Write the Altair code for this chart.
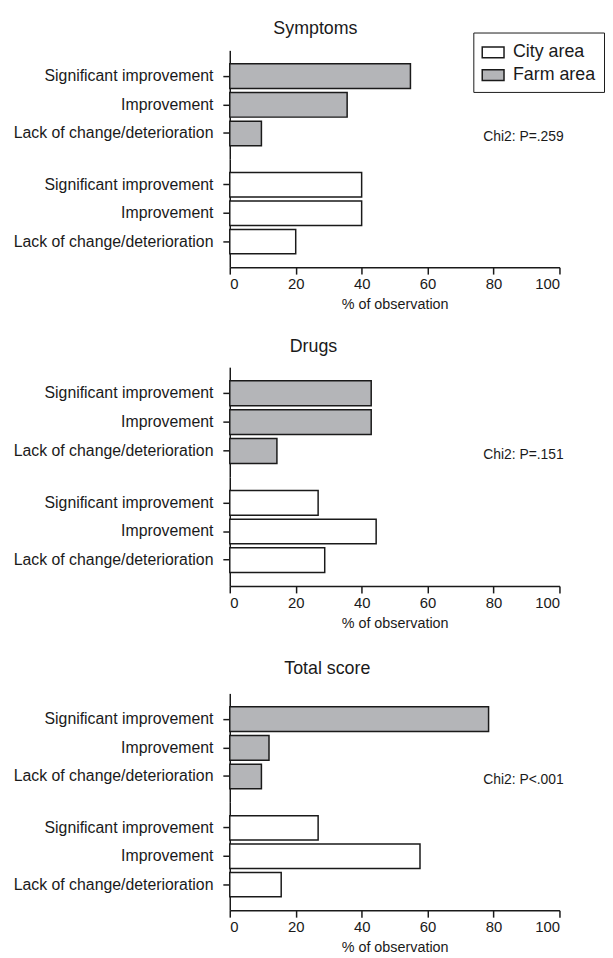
import altair as alt
import pandas as pd

# ---------------- data ----------------
categories = ["Significant improvement", "Improvement", "Lack of change/deterioration"]
areas = ["City area", "Farm area"]
area_colors = ["#ffffff", "#b4b5b8"]
panel_titles = ["Symptoms", "Drugs", "Total score"]
farm_values = [
    [54.8, 35.6, 9.6],   # Symptoms
    [42.9, 42.9, 14.3],  # Drugs
    [78.5, 11.9, 9.6],   # Total score
]
city_values = [
    [40.0, 40.0, 20.0],
    [26.8, 44.4, 28.8],
    [26.8, 57.7, 15.6],
]
chi2_labels = ["Chi2: P=.259", "Chi2: P=.151", "Chi2: P<.001"]
x_ticks = [0, 20, 40, 60, 80, 100]
x_title = "% of observation"

# ---------------- style / layout ----------------
FONT = "Liberation Sans"
INK = "#1a1a1a"
W = 333
H_FARM = [110, 111, 110]
H_CITY = [109, 110, 109]
title_dx = [-80, -82, -68]
title_offset = [-20, -3, 2]

x_scale = alt.Scale(domain=[0, 100], nice=False, zero=True)
color_scale = alt.Scale(domain=areas, range=area_colors)


def bars(values, area, show_x, legend, height):
    df = pd.DataFrame({"category": categories, "value": values, "area": area})
    x_axis = (
        alt.Axis(values=x_ticks, title=x_title, format="d")
        if show_x
        else None
    )
    return (
        alt.Chart(df)
        .mark_bar(stroke=INK, strokeWidth=1.5)
        .encode(
            x=alt.X("value:Q", scale=x_scale, axis=x_axis),
            y=alt.Y("category:N", sort=categories,
                    scale=alt.Scale(domain=categories, paddingInner=0.14,
                                    paddingOuter=0.47),
                    axis=alt.Axis(title=None)),
            color=alt.Color("area:N", scale=color_scale, legend=legend),
        )
        .properties(width=W, height=height)
    )


def panel(i):
    legend = None
    if i == 0:
        legend = alt.Legend(
            title=None, orient="none", legendX=246, legendY=-18,
            strokeColor=INK, padding=8, fillColor="white",
            symbolType="M-1,-0.5H1V0.5H-1Z", symbolSize=484,
            symbolStrokeColor=INK, symbolStrokeWidth=1.5,
            labelFont=FONT, labelFontSize=18, labelColor=INK,
            labelOffset=8, rowPadding=2,
        )
    farm = bars(farm_values[i], "Farm area", False, legend, H_FARM[i])
    note = (
        alt.Chart(pd.DataFrame({"label": [chi2_labels[i]]}))
        .mark_text(align="left", baseline="middle", dy=4, font=FONT,
                   fontSize=14, color=INK)
        .encode(
            x=alt.value(256),
            y=alt.YDatum(categories[2], type="nominal"),
            text="label:N",
        )
    )
    farm_layer = alt.layer(farm, note).properties(
        title=alt.Title(
            panel_titles[i], font=FONT, fontSize=18, fontWeight="normal",
            color=INK, anchor="middle", frame="group", dx=title_dx[i],
            offset=title_offset[i], baseline="alphabetic",
        )
    )
    city = bars(city_values[i], "City area", True, None, H_CITY[i])
    return alt.vconcat(farm_layer, city, spacing=0, bounds="flush").resolve_scale(
        x="independent", y="independent", color="independent"
    )


top = alt.vconcat(panel(0), panel(1), spacing=27).resolve_scale(
    x="independent", y="independent", color="independent"
)
chart = (
    alt.vconcat(top, panel(2), spacing=29.5)
    .resolve_scale(x="independent", y="independent", color="independent")
    .properties(padding={"left": 5, "top": 7, "right": 0, "bottom": 0})
    .configure_view(strokeWidth=0)
    .configure_axis(
        domainColor=INK, domainWidth=1.5, tickColor=INK, tickWidth=1.5,
        tickSize=7, labelFont=FONT, labelColor=INK, titleFont=FONT,
        titleColor=INK, grid=False,
    )
    .configure_axisX(labelFontSize=15, labelPadding=3, titleFontSize=14.5,
                     titleFontWeight="normal", titlePadding=6)
    .configure_axisY(labelFontSize=16, labelPadding=10, labelLimit=400)
)

chart.save("out.html", embed_options={"renderer": "svg", "actions": False})
